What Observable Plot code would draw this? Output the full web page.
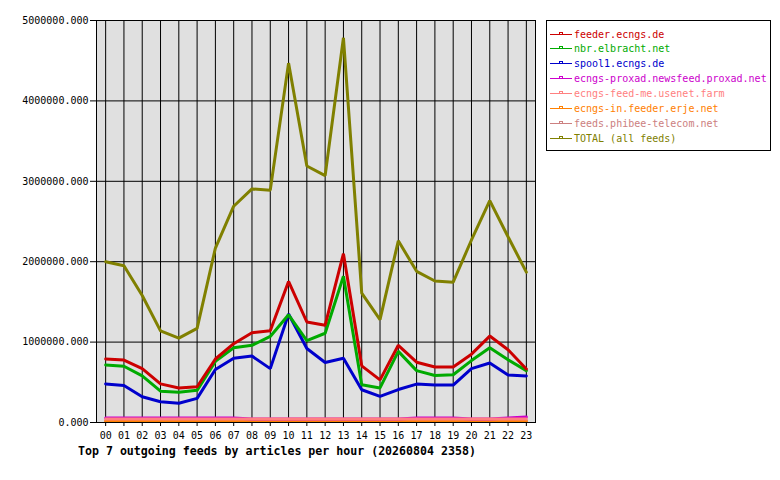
<!DOCTYPE html>
<html>
<head>
<meta charset="utf-8">
<script src="https://cdn.jsdelivr.net/npm/d3@7"></script>
<script src="https://cdn.jsdelivr.net/npm/@observablehq/plot@0.6"></script>
<style>
  html, body { margin: 0; padding: 0; background: white; }
  #wrap { position: relative; width: 780px; height: 480px; overflow: hidden; }
  #legend { position: absolute; left: 546px; top: 20px; width: 223px; height: 129px; border: 1px solid black; background: white; box-sizing: content-box; }
  .row { position: absolute; left: 3px; height: 15px; line-height: 15px; font-family: "DejaVu Sans Mono", monospace; font-size: 10px; white-space: nowrap; }
  .row svg { position: absolute; left: 0; top: 0; }
  .row span { position: absolute; left: 24px; top: 0; }
  #title { position: absolute; left: 78px; top: 443px; font-family: "DejaVu Sans Mono", monospace; font-weight: bold; font-size: 11.6px; line-height: 16px; white-space: nowrap; color: black; }
</style>
</head>
<body>
<div id="wrap">
  <div id="chart"></div>
  <div id="legend"></div>
  <div id="title"></div>
</div>
<script>
const hourLabels = ["00","01","02","03","04","05","06","07","08","09","10","11","12","13","14","15","16","17","18","19","20","21","22","23"];
const yTicks = [0, 1000000, 2000000, 3000000, 4000000, 5000000];
const seriesNames = ["feeder.ecngs.de","nbr.elbracht.net","spool1.ecngs.de","ecngs-proxad.newsfeed.proxad.net","ecngs-feed-me.usenet.farm","ecngs-in.feeder.erje.net","feeds.phibee-telecom.net","TOTAL (all feeds)"];
const seriesColors = ["#cc0000","#00aa00","#0000cc","#cc00cc","#ff8080","#ff8000","#cc8080","#808000"];
const feeder = [790000,777000,670000,480000,430000,445000,790000,980000,1117000,1140000,1755000,1250000,1210000,2100000,705000,530000,960000,750000,690000,690000,850000,1075000,905000,665000];
const nbr = [715000,700000,580000,390000,375000,400000,760000,930000,960000,1070000,1340000,1017000,1110000,1820000,470000,430000,885000,645000,585000,594000,770000,930000,780000,645000];
const spool1 = [480000,460000,320000,258000,240000,300000,660000,800000,826000,670000,1350000,920000,747000,800000,407000,324000,410000,478000,465000,465000,670000,740000,590000,578000];
const proxad = [57000,57000,57000,57000,57000,57000,57000,57000,45000,45000,45000,45000,45000,45000,45000,45000,45000,57000,57000,57000,45000,45000,57000,68000];
const feedme = [45000,45000,45000,45000,45000,45000,45000,45000,45000,45000,45000,45000,45000,45000,45000,45000,45000,45000,45000,45000,45000,45000,45000,45000];
const erje = [15000,15000,15000,15000,15000,15000,15000,15000,15000,15000,15000,15000,15000,15000,15000,15000,15000,15000,15000,15000,15000,15000,15000,15000];
const phibee = [22000,22000,22000,22000,22000,22000,22000,22000,22000,22000,22000,22000,22000,22000,22000,22000,22000,22000,22000,22000,22000,22000,22000,22000];
const total = [2000000,1950000,1580000,1140000,1050000,1170000,2170000,2690000,2905000,2890000,4470000,3190000,3070000,4785000,1610000,1280000,2260000,1880000,1760000,1745000,2270000,2760000,2310000,1870000];

const seriesValues = [feeder, nbr, spool1, proxad, feedme, erje, phibee, total];

// drawing order: TOTAL first, small feeds, then the big feeds with feeder on top
const drawOrder = [7, 6, 5, 3, 4, 2, 1, 0];
const data = [];
for (const s of drawOrder) {
  seriesValues[s].forEach((v, i) => data.push({hour: i, value: v, name: seriesNames[s]}));
}

const chart = Plot.plot({
  width: 780,
  height: 480,
  marginLeft: 96,
  marginRight: 245,
  marginTop: 20,
  marginBottom: 58,
  style: {fontFamily: "DejaVu Sans Mono", fontSize: "10px", color: "black", background: "white"},
  x: {domain: [-0.5, 23.5], label: null},
  y: {domain: [0, 5000000], label: null},
  color: {domain: seriesNames, range: seriesColors},
  marks: [
    Plot.frame({fill: "#e0e0e0"}),
    Plot.ruleX(d3.range(24), {stroke: "black", strokeWidth: 1}),
    Plot.ruleY(yTicks, {stroke: "black", strokeWidth: 1}),
    Plot.line(data, {x: "hour", y: "value", z: "name", stroke: "name", strokeWidth: 3, strokeLinejoin: "miter"}),
    Plot.frame({stroke: "black", strokeWidth: 1}),
    Plot.axisX(d3.range(24), {tickFormat: i => hourLabels[i], tickSize: 4, tickPadding: 5, label: null}),
    Plot.axisY(yTicks, {tickFormat: d => d.toFixed(3), tickSize: 6, tickPadding: 2, label: null})
  ]
});
document.getElementById("chart").appendChild(chart);

const legend = document.getElementById("legend");
seriesNames.forEach((name, i) => {
  const row = document.createElement("div");
  row.className = "row";
  row.style.top = (5.5 + i * 14.9) + "px";
  const c = seriesColors[i];
  row.innerHTML = `<svg width="23" height="15"><line x1="0" x2="22" y1="7.5" y2="7.5" stroke="${c}" stroke-width="1"/><rect x="9.5" y="5.5" width="3" height="2" fill="none" stroke="${c}" stroke-width="1"/></svg><span style="color:${c}">${name}</span>`;
  legend.appendChild(row);
});

document.getElementById("title").textContent = "Top 7 outgoing feeds by articles per hour (20260804 2358)";
</script>
</body>
</html>
